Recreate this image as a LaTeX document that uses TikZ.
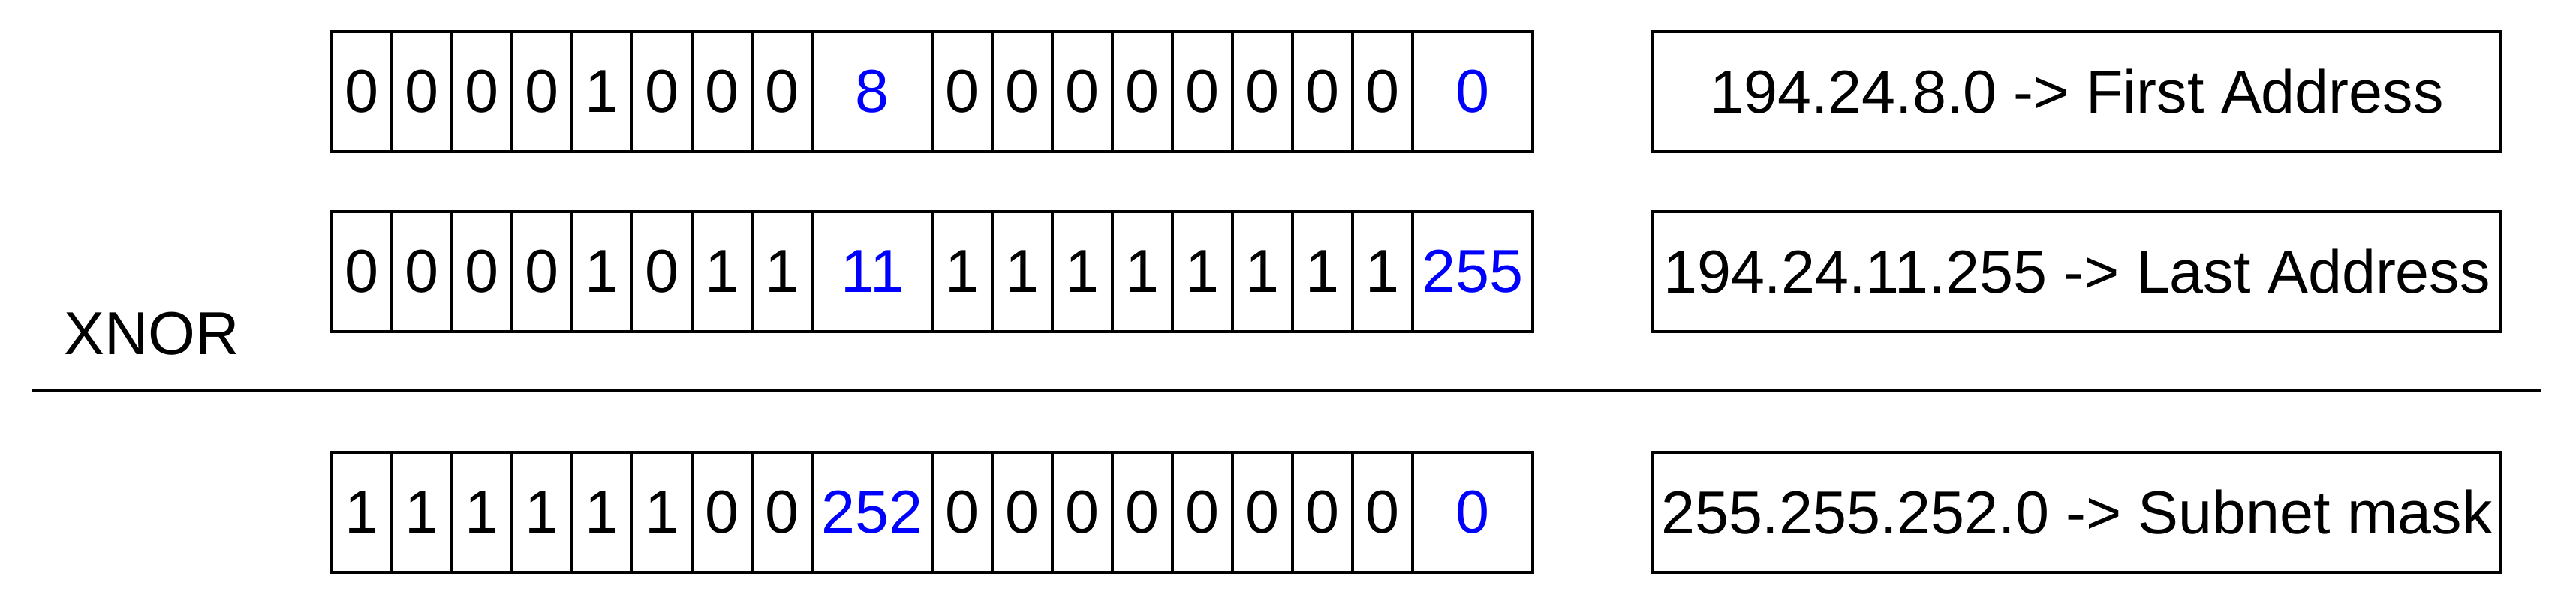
\documentclass[tikz,border=0pt]{standalone}
\usepackage{fontspec}
\setmainfont{Liberation Sans}

\tikzset{
  cell/.style={draw, line width=1pt, minimum width=0.8cm, minimum height=1.6cm,
    inner sep=0pt, outer sep=0pt, font=\fontsize{23}{28}\selectfont},
  deccell/.style={cell, minimum width=1.6cm, text=blue},
  addrbox/.style={cell, minimum width=11.3cm},
}

% one address row: name, y, bits of third octet, its value, bits of fourth octet, its value
\newcommand{\bitrow}[6]{%
  \foreach \b [count=\i] in {#3} \node[cell] (#1a\i) at ({4.02+0.8*\i},#2) {\b};
  \node[deccell] (#1x) at (11.62,#2) {#4};
  \foreach \b [count=\i] in {#5} \node[cell] (#1b\i) at ({12.02+0.8*\i},#2) {\b};
  \node[deccell] (#1y) at (19.62,#2) {#6};
}

\begin{document}
\begin{tikzpicture}
  \useasboundingbox (0,0) rectangle (34.32,8.04);

  % first and last address
  \bitrow{first}{6.82}{0,0,0,0,1,0,0,0}{8}{0,0,0,0,0,0,0,0}{0}
  \bitrow{last}{4.42}{0,0,0,0,1,0,1,1}{11}{1,1,1,1,1,1,1,1}{255}

  % result of the XNOR
  \bitrow{mask}{1.21}{1,1,1,1,1,1,0,0}{252}{0,0,0,0,0,0,0,0}{0}

  % dotted decimal values
  \node[addrbox] (firstaddr) at (27.67,6.82) {194.24.8.0 -> First Address};
  \node[addrbox] (lastaddr) at (27.67,4.42) {194.24.11.255 -> Last Address};
  \node[addrbox] (maskaddr) at (27.67,1.21) {255.255.252.0 -> Subnet mask};

  \node[anchor=base west, inner sep=0pt, font=\fontsize{23}{28}\selectfont] (xnor) at (0.85,3.32) {XNOR};

  % separator
  \coordinate (sepL) at (0.42,2.83);
  \coordinate (sepR) at (33.86,2.83);
  \draw[line width=1.1pt] (sepL) -- (sepR);
\end{tikzpicture}
\end{document}
